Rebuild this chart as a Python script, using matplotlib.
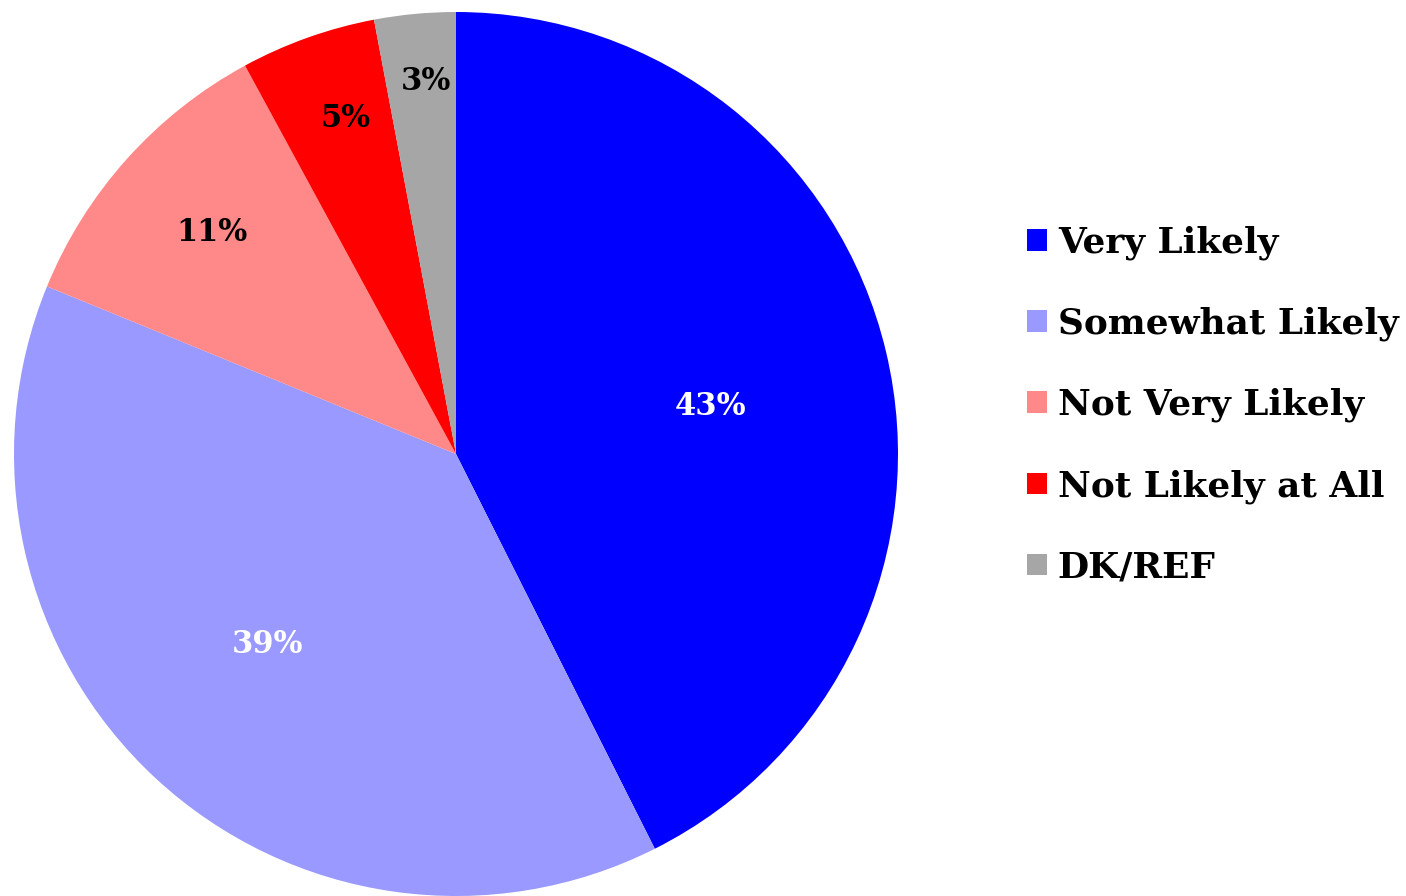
import matplotlib
matplotlib.use("Agg")
import matplotlib.pyplot as plt
import numpy as np

categories = ["Very Likely", "Somewhat Likely", "Not Very Likely", "Not Likely at All", "DK/REF"]
values = [43, 39, 11, 5, 3]
colors = ["#0000FF", "#9999FF", "#FF8888", "#FF0000", "#A6A6A6"]
label_colors = ["white", "white", "black", "black", "black"]
label_radii = [0.585, 0.606, 0.745, 0.80, 0.846]
label_angle_shift = [-2.7, -2.0, -0.3, -1.4, -0.7]

plt.rcParams['font.family'] = ['DejaVu Serif']

fig = plt.figure(figsize=(14.06, 8.96), dpi=100)
ax = fig.add_axes([14/1406, 0.0, 884/1406, 884/896])
wedges, _ = ax.pie(values, colors=colors, startangle=90, counterclock=False,
                   wedgeprops=dict(linewidth=0))
ax.set_xlim(-1, 1)
ax.set_ylim(-1, 1)
ax.set_aspect('equal')

for w, v, c, r, s in zip(wedges, values, label_colors, label_radii, label_angle_shift):
    ang = np.deg2rad((w.theta1 + w.theta2) / 2 + s)
    ax.text(r * np.cos(ang), r * np.sin(ang), f"{v}%", ha='center', va='center',
            color=c, fontsize=22, fontweight='bold')

leg = fig.legend(wedges, categories, loc='center left', bbox_to_anchor=(1027/1406, 1 - 405/896),
                 frameon=False, handlelength=0.56, handleheight=0.56, handletextpad=0.3,
                 labelspacing=1.3, borderpad=0, borderaxespad=0,
                 prop=dict(size=25.8, weight='bold'))

fig.savefig("out.png", dpi=100)
